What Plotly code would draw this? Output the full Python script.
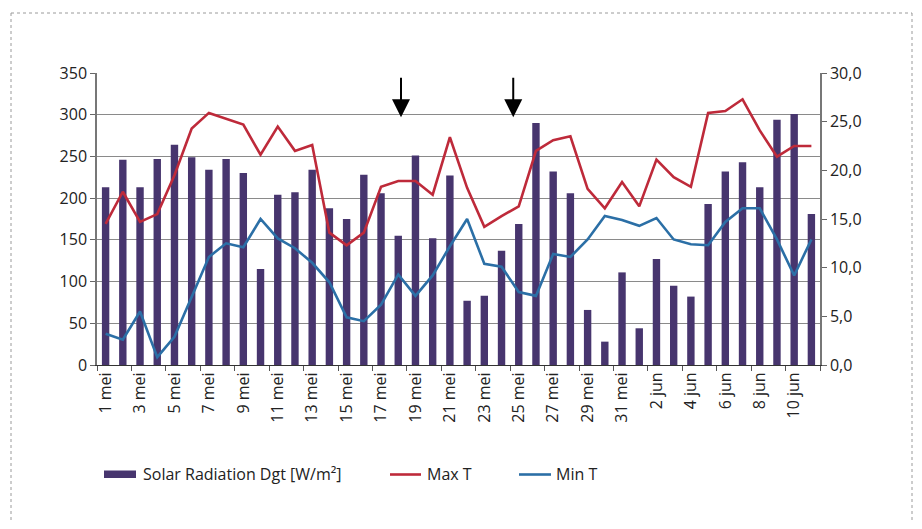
import plotly.graph_objects as go

# ---------------- data ----------------
days = [f"{d} mei" for d in range(1, 32)] + [f"{d} jun" for d in range(1, 12)]

solar_radiation = [213, 246, 213, 247, 264, 249, 234, 247, 230, 115,
                   204, 207, 234, 188, 175, 228, 206, 155, 251, 152,
                   227, 77, 83, 137, 169, 290, 232, 206, 66, 28,
                   111, 44, 127, 95, 82, 193, 232, 243, 213, 294,
                   301, 181]

max_t = [14.5, 17.8, 14.7, 15.5, 19.5, 24.3, 25.9, 25.3, 24.7, 21.6,
         24.5, 22.0, 22.6, 13.6, 12.3, 13.6, 18.3, 18.9, 18.9, 17.5,
         23.4, 18.2, 14.2, 15.3, 16.3, 22.0, 23.1, 23.5, 18.1, 16.1,
         18.8, 16.3, 21.1, 19.3, 18.3, 25.9, 26.1, 27.3, 24.1, 21.4,
         22.5, 22.5]

min_t = [3.2, 2.6, 5.5, 0.8, 2.9, 7.1, 11.1, 12.5, 12.1, 15.0,
         13.0, 12.0, 10.5, 8.5, 4.9, 4.5, 6.2, 9.3, 7.1, 9.2,
         12.2, 15.0, 10.4, 10.1, 7.5, 7.1, 11.4, 11.1, 12.9, 15.3,
         14.9, 14.3, 15.1, 12.9, 12.4, 12.3, 14.7, 16.1, 16.1, 12.9,
         9.2, 12.9]

left_ticks = [0, 50, 100, 150, 200, 250, 300, 350]
right_ticks = [0, 5, 10, 15, 20, 25, 30]
right_tick_labels = ["0,0", "5,0", "10,0", "15,0", "20,0", "25,0", "30,0"]

arrow_positions = [17.16, 23.68]   # category index of the two arrows
arrow_tip_value = 297

series_names = ["Solar Radiation Dgt [W/m²]", "Max T", "Min T"]

# ---------------- style ----------------
PURPLE = "#47356E"
RED = "#BE2A3A"
BLUE = "#2B6FA6"
GRID = "#8A8A8A"
FONT = "Open Sans"
TXT = "#222222"

# the page has an 8px body margin; plot area on screen: x 97..820, y 73..365
OFF = 8
PX0, PX1, PY0, PY1 = 97, 820, 73, 365
W, H = 912, 513
L = PX0 - OFF
T = PY0 - OFF
R = W - (PX1 - OFF)
B = H - (PY1 - OFF)


def xp(px):
    return (px - PX0) / (PX1 - PX0)


def yp(py):
    return (PY1 - py) / (PY1 - PY0)


fig = go.Figure()

fig.add_trace(go.Bar(
    x=days, y=solar_radiation, name=series_names[0],
    marker=dict(color=PURPLE, line=dict(width=0)),
    yaxis="y", showlegend=False,
))
fig.add_trace(go.Scatter(
    x=days, y=max_t, name=series_names[1], mode="lines",
    line=dict(color=RED, width=2.6), yaxis="y2", showlegend=False,
))
fig.add_trace(go.Scatter(
    x=days, y=min_t, name=series_names[2], mode="lines",
    line=dict(color=BLUE, width=2.6), yaxis="y2", showlegend=False,
))

# arrows
annotations = []
for ax_pos in arrow_positions:
    annotations.append(dict(
        x=ax_pos, y=arrow_tip_value, xref="x", yref="y",
        ax=0, ay=-41, axref="pixel", ayref="pixel",
        showarrow=True, arrowhead=2, arrowsize=1.8, arrowwidth=2,
        arrowcolor="black", text="",
    ))

# manual legend
shapes = [
    dict(type="rect", xref="paper", yref="paper",
         x0=xp(104), x1=xp(136), y0=yp(478), y1=yp(470.5),
         fillcolor=PURPLE, line=dict(width=0)),
    dict(type="line", xref="paper", yref="paper",
         x0=xp(390), x1=xp(421), y0=yp(474.5), y1=yp(474.5),
         line=dict(color=RED, width=2.6)),
    dict(type="line", xref="paper", yref="paper",
         x0=xp(519), x1=xp(551), y0=yp(474.5), y1=yp(474.5),
         line=dict(color=BLUE, width=2.6)),
    # dotted frame
    dict(type="line", xref="paper", yref="paper",
         x0=xp(11), x1=xp(912), y0=yp(13), y1=yp(13),
         line=dict(color="#9A9A9A", width=1, dash="dot"), layer="below"),
    dict(type="line", xref="paper", yref="paper",
         x0=xp(11), x1=xp(11), y0=yp(13), y1=yp(560),
         line=dict(color="#9A9A9A", width=1, dash="dot"), layer="below"),
    dict(type="line", xref="paper", yref="paper",
         x0=xp(912), x1=xp(912), y0=yp(13), y1=yp(560),
         line=dict(color="#9A9A9A", width=1, dash="dot"), layer="below"),
]
for txt, px in zip(series_names, [141, 425, 554]):
    annotations.append(dict(
        x=xp(px), y=yp(474), xref="paper", yref="paper",
        text=txt, showarrow=False, xanchor="left", yanchor="middle",
        font=dict(family=FONT, size=16, color=TXT),
    ))

fig.update_layout(
    width=W, height=H,
    margin=dict(l=L, r=R, t=T, b=B, pad=0),
    paper_bgcolor="white", plot_bgcolor="white",
    bargap=0.57,
    font=dict(family=FONT, size=16, color=TXT),
    xaxis=dict(
        type="category", range=[-0.5, len(days) - 0.5],
        tickmode="linear", tick0=0, dtick=2, tickson="boundaries",
        tickangle=-90, ticks="outside", ticklen=5, tickcolor="#555555",
        showline=True, linecolor="#333333", linewidth=1,
        showgrid=False, tickfont=dict(family=FONT, size=16, color=TXT),
    ),
    yaxis=dict(
        range=[0, 350], tickvals=left_ticks,
        ticks="outside", ticklen=5, tickcolor="#666666",
        showline=True, linecolor="#777777", linewidth=1.5,
        showgrid=True, gridcolor=GRID, gridwidth=1,
        zeroline=False, tickfont=dict(family=FONT, size=16, color=TXT),
    ),
    yaxis2=dict(
        range=[0, 30], tickvals=right_ticks, ticktext=right_tick_labels,
        overlaying="y", side="right",
        ticks="outside", ticklen=5, tickcolor="#666666",
        showline=True, linecolor="#777777", linewidth=1.5,
        showgrid=False, zeroline=False,
        tickfont=dict(family=FONT, size=16, color=TXT),
    ),
    annotations=annotations,
    shapes=shapes,
)

fig.write_html("out.html")
